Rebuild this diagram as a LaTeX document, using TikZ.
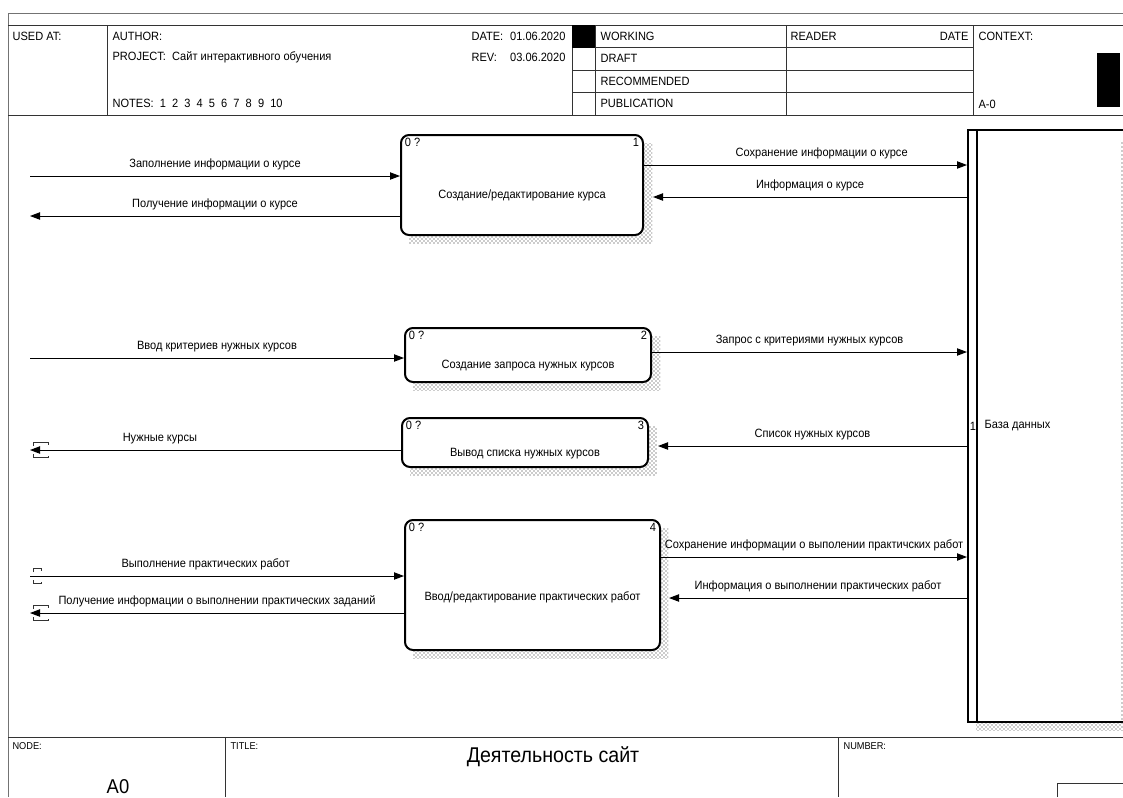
\documentclass[tikz,border=0pt]{standalone}
\usepackage{fontspec}
\setmainfont{Liberation Sans}[FakeStretch=0.92]
\usetikzlibrary{arrows.meta, positioning, fit, patterns}

\tikzset{
	lbl/.style={font=\fontsize{9}{10}\selectfont, inner sep=1pt},
	lab/.style={lbl, above=3pt},
	hd/.style={lbl, anchor=west},
	corner/.style={lbl, inner xsep=3.5pt, inner ysep=3pt},
	small/.style={font=\fontsize{7.5}{8}\selectfont, inner sep=1pt, anchor=west},
	proc/.style={draw, line width=1.5pt, rounded corners=6pt, fill=white, inner sep=0pt},
	dbbox/.style={draw, line width=1.5pt, fill=white, inner sep=0pt},
	hatch/.style={pattern=crosshatch dots, pattern color=black!85},
	flow/.style={-{Triangle[length=7.5pt, width=5.5pt]}, line width=0.75pt},
	tunl/.style={line width=0.75pt, black!80},
	rule/.style={line width=0.75pt, black!80}
}

% bracket at the free end of a tunnelled arrow
\newcommand{\tunnel}[2]{%
	\draw[tunl] ([shift={(3.5,-4)}]#1) -- ++(0,-3.5) -- ++(#2,0) -- ++(0,2);
	\draw[tunl] ([shift={(3.5,4)}]#1) -- ++(0,3.5) -- ++(#2,0) -- ++(0,-2);}

\begin{document}
\begin{tikzpicture}[x=0.75pt, y=-0.75pt]
			\clip (0,0) rectangle (1123,797);
			\fill[white] (0,0) rectangle (1123,797);
			
			% Frame and header
			\draw[line width=0.75pt, black!55] (8,797) -- (8,13) -- (1123,13);
			\draw[rule] (8,25) -- (1123,25);
			\draw[rule] (8,115) -- (1123,115);
			\foreach \x in {107, 572, 595, 786, 973}
				\draw[rule] (\x,25) -- (\x,115);
			\foreach \y in {47.5, 70, 92.5}
				\draw[rule] (572,\y) -- (973,\y);
			\fill (572,25) rectangle (595,47.5);
			\fill (1097,53) rectangle (1120,107);
			
			\node[hd] (usedat) at (11,36) {USED AT:};
			\node[hd] (author) at (111,36) {AUTHOR:};
			\node[hd] (project) at (111,57) {PROJECT:\ \ Сайт интерактивного обучения};
			\node[hd] (notes) at (111,103) {NOTES:\ \ 1\ \ 2\ \ 3\ \ 4\ \ 5\ \ 6\ \ 7\ \ 8\ \ 9\ \ 10};
			\node[hd] (date) at (470,36) {DATE:};
			\node[lbl, anchor=east] (dateval) at (567,36) {01.06.2020};
			\node[hd] (rev) at (470,57) {REV:};
			\node[lbl, anchor=east] (revval) at (567,57) {03.06.2020};
			\node[hd] (working) at (599,36) {WORKING};
			\node[hd] (draft) at (599,58.5) {DRAFT};
			\node[hd] (recom) at (599,81) {RECOMMENDED};
			\node[hd] (public) at (599,103.5) {PUBLICATION};
			\node[hd] (reader) at (789,36) {READER};
			\node[lbl, anchor=east] (readdate) at (970,36) {DATE};
			\node[hd] (context) at (977,36) {CONTEXT:};
			\node[hd] (cnode) at (977,104) {A-0};
			
			% Shadows
			\fill[hatch] (409,143) rectangle (652,243);
			\fill[hatch] (413,336) rectangle (660,390);
			\fill[hatch] (410,426) rectangle (657,475);
			\fill[hatch] (413,528) rectangle (668,658);
			\fill[hatch] (976,138) rectangle (1131,730);
			
			% Activities
			\node[proc, fit={(401,135) (643,235)}] (b1) {};
			\node[proc, fit={(405,328) (651,382)}] (b2) {};
			\node[proc, fit={(402,418) (648,467)}] (b3) {};
			\node[proc, fit={(405,520) (660,650)}] (b4) {};
			\node[lbl] (b1t) at ([yshift=-8pt]b1.center) {Создание/редактирование курса};
			\node[lbl] (b2t) at ([yshift=-8pt]b2.center) {Создание запроса нужных курсов};
			\node[lbl] (b3t) at ([yshift=-8pt]b3.center) {Вывод списка нужных курсов};
			\node[lbl] (b4t) at ([yshift=-9pt]b4.center) {Ввод/редактирование практических работ};
			\foreach \b/\n in {b1/1, b2/2, b3/3, b4/4} {
				\node[corner, anchor=north west] (\b q) at (\b.north west) {0 ?};
				\node[corner, anchor=north east] (\b n) at (\b.north east) {\n};
			}
			
			% Database
			\node[dbbox, fit={(968,130) (1126,722)}] (db) {};
			\fill[hatch] (1120.5,140) rectangle (1123,722);
			\draw[line width=1.5pt] ([xshift=7.5pt]db.north west) -- ([xshift=7.5pt]db.south west);
			\node[lbl, anchor=west] (dbn) at ([xshift=1pt]db.west) {1};
			\node[lbl, anchor=west] (dbt) at ([xshift=12pt]db.west) {База данных};
			
			% Arrows, box 1
			\coordinate (in1) at (30,176);
			\coordinate (out1) at (30,216);
			\draw[flow] (in1) -- (in1 -| b1.west) node[lab, midway] (l11) {Заполнение информации о курсе};
			\draw[flow] (out1 -| b1.west) -- (out1) node[lab, midway] (l12) {Получение информации о курсе};
			\draw[flow] (b1.east |- 0,165) -- (db.west |- 0,165) node[lab, pos=.55] (l13) {Сохранение информации о курсе};
			\draw[flow] (db.west |- 0,197) -- ([xshift=6.75pt]b1.east |- 0,197) node[lab, midway] (l14) {Информация о курсе};
			
			% Arrows, box 2
			\coordinate (in2) at (30,358);
			\draw[flow] (in2) -- (in2 -| b2.west) node[lab, midway] (l21) {Ввод критериев нужных курсов};
			\draw[flow] (b2.east |- 0,352) -- (db.west |- 0,352) node[lab, midway] (l22) {Запрос с критериями нужных курсов};
			
			% Arrows, box 3
			\coordinate (out3) at (30,450);
			\draw[flow] (out3 -| b3.west) -- (out3) node[lab, pos=.65] (l31) {Нужные курсы};
			\tunnel{out3}{14.5}
			\draw[flow] (db.west |- 0,446) -- ([xshift=6.75pt]b3.east |- 0,446) node[lab, midway] (l32) {Список нужных курсов};
			
			% Arrows, box 4
			\coordinate (in4) at (30,576);
			\coordinate (out4) at (30,613);
			\draw[flow] (in4) -- (in4 -| b4.west) node[lab, pos=.47] (l41) {Выполнение практических работ};
			\tunnel{in4}{8}
			\draw[flow] (out4 -| b4.west) -- (out4) node[lab, midway] (l42) {Получение информации о выполнении практических заданий};
			\tunnel{out4}{14.5}
			\draw[flow] (b4.east |- 0,557) -- (db.west |- 0,557) node[lab, midway] (l43) {Сохранение информации о выполении практичских работ};
			\draw[flow] (db.west |- 0,598) -- ([xshift=6pt]b4.east |- 0,598) node[lab, midway] (l44) {Информация о выполнении практических работ};
			
			% Title block
			\draw[rule] (8,737) -- (1123,737);
			\draw[rule] (225,737) -- (225,797);
			\draw[rule] (838,737) -- (838,797);
			\draw[rule] (1057,797) -- (1057,783) -- (1123,783);
			\node[small] (nodelbl) at (11,746) {NODE:};
			\node[small] (titlelbl) at (229,746) {TITLE:};
			\node[small] (numlbl) at (842,746) {NUMBER:};
			\node[font=\fontsize{16}{18}\selectfont, inner sep=0pt] (title) at (553,757) {Деятельность сайт};
			\node[font=\fontsize{15}{17}\selectfont, inner sep=0pt] (nodeno) at (118,787) {A0};
		\end{tikzpicture}
\end{document}
